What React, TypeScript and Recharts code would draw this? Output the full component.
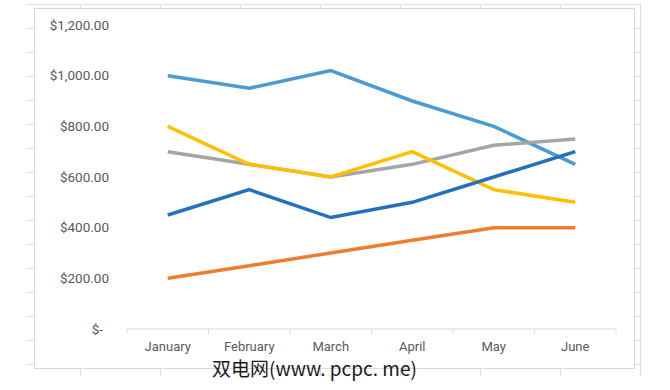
import React from "react";
import { LineChart, Line, XAxis, YAxis, ReferenceLine } from "recharts";

const months = ["January", "February", "March", "April", "May", "June"];
const seriesLightBlue = [1000, 950, 1020, 900, 800, 650];
const seriesOrange = [200, 250, 300, 350, 400, 400];
const seriesGray = [700, 650, 600, 650, 725, 750];
const seriesYellow = [800, 650, 600, 700, 550, 500];
const seriesDarkBlue = [450, 550, 440, 500, 600, 700];
const yTicks = [0, 200, 400, 600, 800, 1000, 1200];

const data = months.map((m, i) => ({
  month: m,
  pos: i + 0.5,
  a: seriesLightBlue[i],
  b: seriesOrange[i],
  c: seriesGray[i],
  d: seriesYellow[i],
  e: seriesDarkBlue[i],
}));

const boundaries = months.map((_, i) => i).concat([months.length]);
const centers = months.map((_, i) => i + 0.5);

const FONT = "Roboto, 'Liberation Sans', sans-serif";
const TEXT = "#595959";
const LINE = "#d9d9d9";

const fmtY = (v: number) =>
  v === 0
    ? "$-"
    : "$" + v.toLocaleString("en-US", { minimumFractionDigits: 2, maximumFractionDigits: 2 });

const YTick = (props: any) => {
  const { x, y, payload } = props;
  const label = fmtY(payload.value);
  return (
    <text
      x={x + (payload.value === 0 ? -6 : 0)}
      y={y}
      dy="0.35em"
      textAnchor="end"
      fill={TEXT}
      fontSize={13.5}
      fontFamily={FONT}
    >
      {label}
    </text>
  );
};

export default function App() {
  return (
    <div style={{ position: "absolute", left: 0, top: 0, width: 670, height: 390, background: "#fff" }}>
      <div
        style={{
          position: "absolute",
          left: 26,
          top: 4,
          width: 615,
          height: 372,
          backgroundImage:
            "repeating-linear-gradient(to bottom, #dedede 0px, #dedede 1px, transparent 1px, transparent 24px), repeating-linear-gradient(to right, transparent 0px, transparent 54px, #dedede 54px, #dedede 55px, transparent 55px, transparent 80px)",
        }}
      />
      <div
        style={{
          position: "absolute",
          left: 34,
          top: 8,
          width: 601,
          height: 361,
          boxSizing: "border-box",
          border: "1px solid " + LINE,
          background: "#fff",
        }}
      />
      <div style={{ position: "absolute", left: 34, top: 8 }}>
        <LineChart width={600} height={360} data={data} margin={{ top: 17, right: 18, left: 0, bottom: 0 }}>
          <XAxis
            dataKey="pos"
            type="number"
            domain={[0, months.length]}
            ticks={centers}
            interval={0}
            tickFormatter={(v: number) => months[Math.floor(v)]}
            tickLine={false}
            tickSize={0}
            tickMargin={13}
            axisLine={{ stroke: LINE }}
            height={39}
            tick={{ fill: TEXT, fontSize: 13, fontFamily: FONT }}
          />
          <YAxis
            type="number"
            domain={[0, 1200]}
            ticks={yTicks}
            interval={0}
            axisLine={false}
            tickLine={false}
            tickSize={0}
            tickMargin={18}
            width={93}
            tick={<YTick />}
          />
          {boundaries.map((b) => (
            <ReferenceLine
              key={b}
              segment={[
                { x: b, y: 0 },
                { x: b, y: -16 },
              ]}
              stroke={LINE}
              ifOverflow="visible"
            />
          ))}
          <Line type="linear" dataKey="a" stroke="#4A9AD4" strokeWidth={3.5} dot={false} isAnimationActive={false} />
          <Line type="linear" dataKey="b" stroke="#ED7D31" strokeWidth={3.5} dot={false} isAnimationActive={false} />
          <Line type="linear" dataKey="c" stroke="#A5A5A5" strokeWidth={3.5} dot={false} isAnimationActive={false} />
          <Line type="linear" dataKey="d" stroke="#FFC000" strokeWidth={3.5} dot={false} isAnimationActive={false} />
          <Line type="linear" dataKey="e" stroke="#2370BE" strokeWidth={3.5} dot={false} isAnimationActive={false} />
        </LineChart>
      </div>
      <div
        style={{
          position: "absolute",
          left: 212,
          top: 357,
          fontSize: 19,
          lineHeight: "21px",
          fontFamily: "'Noto Sans CJK SC', sans-serif",
          color: "#1a1a1a",
          whiteSpace: "nowrap",
        }}
      >
        双电网(www. pcpc. me)
      </div>
    </div>
  );
}
